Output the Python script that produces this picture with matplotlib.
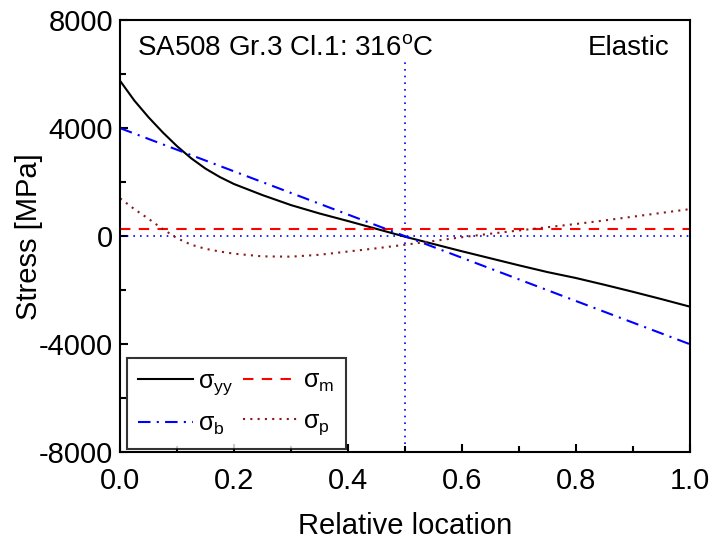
import numpy as np
import matplotlib
matplotlib.use("Agg")
import matplotlib.pyplot as plt
from matplotlib.ticker import MultipleLocator

plt.rcParams['font.family'] = ['Liberation Sans', 'DejaVu Sans']
plt.rcParams['mathtext.fontset'] = 'custom'
plt.rcParams['mathtext.rm'] = 'Liberation Sans'
plt.rcParams['mathtext.it'] = 'Liberation Sans'
plt.rcParams['axes.unicode_minus'] = False

# relative location grid
x = [0.000, 0.025, 0.050, 0.075, 0.100, 0.125, 0.150, 0.175, 0.200,
     0.25, 0.30, 0.35, 0.40, 0.45, 0.50, 0.55, 0.60, 0.65, 0.70,
     0.75, 0.80, 0.85, 0.90, 0.95, 1.00]

# total stress sigma_yy
s_yy = [5750, 5020, 4400, 3840, 3330, 2880, 2500, 2190, 1930,
        1520, 1150, 840, 560, 270, -20, -290, -560, -820, -1080,
        -1330, -1550, -1800, -2060, -2330, -2610]

# peak stress sigma_p
s_p = [1400, 1000, 640, 260, -80, -320, -470, -570, -650,
       -750, -760, -690, -570, -450, -320, -180, -40, 90, 210,
       330, 450, 580, 720, 860, 1000]

# bending (linear) and membrane (constant)
x_b = [0.0, 1.0]
s_b = [4000, -4000]
x_m = [0.0, 1.0]
s_m = [250, 250]

# reference lines
ref_h_x = [0.0, 1.0]
ref_h_y = [0, 0]
ref_v_x = [0.5, 0.5]
ref_v_y = [-7700, 6550]

fig = plt.figure(figsize=(7.11, 5.46), dpi=100)
ax = fig.add_axes([0.169, 0.172, 0.801, 0.791])

dot = (0, (1, 3))
ax.plot(ref_h_x, ref_h_y, color='blue', lw=1.2, ls=dot)
ax.plot(ref_v_x, ref_v_y, color='blue', lw=1.2, ls=dot)

l_yy, = ax.plot(x, s_yy, color='black', lw=1.5, label=r'$\mathregular{\sigma_{yy}}$')
l_m, = ax.plot(x_m, s_m, color='red', lw=1.5, ls=(0, (5, 4)), label=r'$\mathregular{\sigma_{m}}$')
l_b, = ax.plot(x_b, s_b, color='blue', lw=1.5, ls=(0, (6, 3, 1, 3)), label=r'$\mathregular{\sigma_{b}}$')
l_p, = ax.plot(x, s_p, color='#8b1a1a', lw=1.5, ls=(0, (1, 2.5)), label=r'$\mathregular{\sigma_{p}}$')

ax.set_xlim(0, 1)
ax.set_ylim(-8000, 8000)
ax.xaxis.set_major_locator(MultipleLocator(0.2))
ax.xaxis.set_minor_locator(MultipleLocator(0.1))
ax.yaxis.set_major_locator(MultipleLocator(4000))
ax.yaxis.set_minor_locator(MultipleLocator(2000))
ax.set_xticks(ax.get_xticks())
ax.set_xticklabels([f'{v:.1f}' for v in ax.get_xticks()])
ax.set_xlim(0, 1)
ax.tick_params(which='both', direction='in', top=False, right=False, width=1.5, labelsize=21)
ax.tick_params(which='major', length=6, pad=5)
ax.tick_params(axis='x', which='major', pad=11)
ax.tick_params(which='minor', length=4)
for s in ax.spines.values():
    s.set_linewidth(1.5)

ax.set_xlabel('Relative location', fontsize=21, labelpad=12)
ax.set_ylabel('Stress [MPa]', fontsize=21)
ax.yaxis.set_label_coords(-0.135, 0.5)

ax.text(0.03, 0.965, r'SA508 Gr.3 Cl.1: 316$\mathregular{^{o}}$C', transform=ax.transAxes,
        fontsize=20, va='top', ha='left')
ax.text(0.965, 0.965, 'Elastic', transform=ax.transAxes, fontsize=20, va='top', ha='right')

leg = ax.legend([l_yy, l_b, l_m, l_p],
                [l.get_label() for l in (l_yy, l_b, l_m, l_p)],
                ncol=2, loc='lower left', bbox_to_anchor=(0.012, 0.008),
                fontsize=18, frameon=True, fancybox=False, edgecolor='black',
                handlelength=2.2, columnspacing=0.4, handletextpad=0.2, borderpad=0.45,
                labelspacing=0.6, borderaxespad=0)
leg.get_frame().set_linewidth(1.5)

fig.savefig('out.png', dpi=100)
